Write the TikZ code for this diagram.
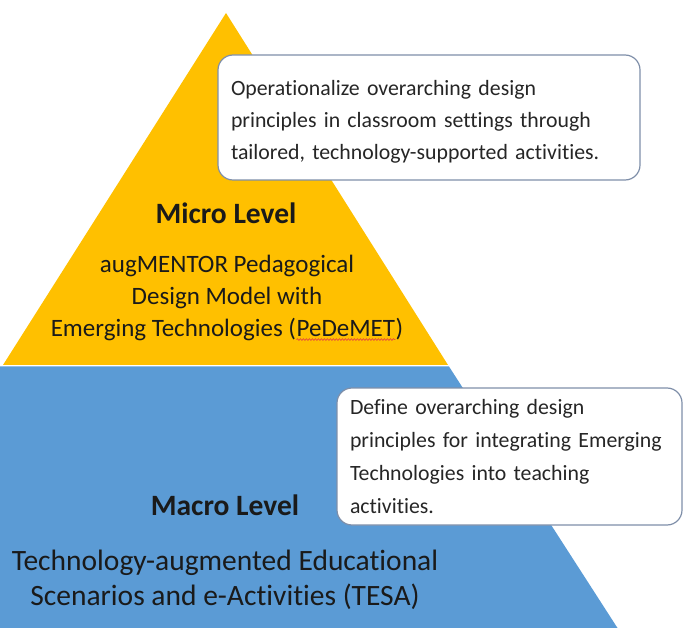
\documentclass[tikz,border=0pt]{standalone}
\usepackage{fontspec}
\setmainfont[Ligatures=NoCommon]{Carlito}
\usetikzlibrary{decorations.pathmorphing}
\definecolor{microgold}{HTML}{FFC000}
\definecolor{macroblue}{HTML}{5B9BD5}
\definecolor{calloutedge}{HTML}{7F8FA9}
\definecolor{inktext}{HTML}{1A1A1A}
\definecolor{notetext}{HTML}{262626}
\definecolor{spellred}{HTML}{E8503A}
% word with a red wavy underline
\newcommand\wavyword[1]{\tikz[baseline=(ww.base)]{%
  \node[inner sep=0pt] (ww) {#1};
  \draw[spellred, line width=0.7pt, decorate,
    decoration={snake, amplitude=0.9pt, segment length=3pt}]
    ([yshift=-3pt]ww.base west) -- ([yshift=-3pt]ww.base east);}}
\begin{document}
\begin{tikzpicture}[x=1pt,y=-1pt,
  levelhead/.style={font=\fontsize{29.5}{34}\selectfont\bfseries, text=inktext, inner sep=0pt},
  levelbody/.style={font=\fontsize{25}{32}\selectfont, text=inktext, align=center, inner sep=0pt},
  macrobody/.style={font=\fontsize{29.5}{35}\selectfont, text=inktext, align=center, inner sep=0pt},
  callout/.style={draw=calloutedge, line width=1.2pt, fill=white, rounded corners=15pt,
    align=left, text=notetext, inner xsep=13pt, inner ysep=0pt}]
\useasboundingbox (0,0) rectangle (683,628);

% pyramid layers
\fill[macroblue] (0,366.5) -- (449,366.5) -- (617.5,628) -- (0,628) -- cycle;
\fill[microgold] (226,13) -- (448,365) -- (3,365) -- cycle;

% callout boxes
\node[callout, minimum width=422pt, minimum height=125pt, text width=396pt,
  font=\fontsize{21.8}{32}\selectfont] (microNote) at (429,117.5)
  {\rule{0pt}{23pt}Operationalize overarching design\\principles in classroom settings through\\tailored, technology-supported activities.};
\node[callout, minimum width=345pt, minimum height=137pt, text width=319pt,
  font=\fontsize{21.8}{33}\selectfont] (macroNote) at (509.5,456.5)
  {Define overarching design\\principles for integrating Emerging\\Technologies into teaching\\activities.};

% level titles and descriptions
\node[levelhead] (microHead) at (226,213) {Micro Level};
\node[levelbody] (microBody) at (227,298)
  {augMENTOR Pedagogical\\Design Model with\\Emerging Technologies (\wavyword{PeDeMET})};
\node[levelhead] (macroHead) at (225,505) {Macro Level};
\node[macrobody] (macroBody) at (225,580)
  {Technology-augmented Educational\\Scenarios and e-Activities (TESA)};
\end{tikzpicture}
\end{document}
